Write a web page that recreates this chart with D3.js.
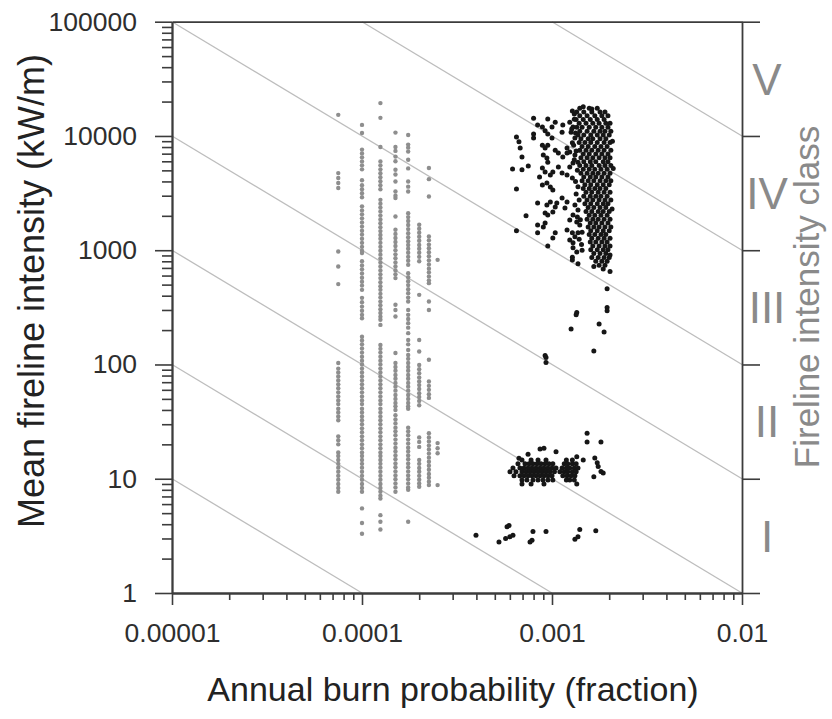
<!DOCTYPE html>
<html>
<head>
<meta charset="utf-8">
<script src="https://cdn.jsdelivr.net/npm/d3@7"></script>
<style>
	body { margin: 0; background: #fff; }
	svg { display: block; }
</style>
</head>
<body>
<svg id="chart" width="832" height="719"></svg>
<script>

// axis ticks and labels
const xMajor = [0.00001, 0.0001, 0.001, 0.01];
const xTickLabels = ["0.00001", "0.0001", "0.001", "0.01"];
const yMajor = [1, 10, 100, 1000, 10000, 100000];
const yTickLabels = ["1", "10", "100", "1000", "10000", "100000"];

// fireline intensity classes (bounds in kW/m) and their names
const classBounds = [1, 10, 100, 1000, 10000, 100000];
const classNames = ["I", "II", "III", "IV", "V"];

// gray iso-lines: constant burn probability x intensity
const isoProducts = [0.0001, 0.001, 0.01, 0.1, 1, 10, 100];

// gray points: discrete burn probability columns and the intensities in each
const grayX = [0.000075, 0.0001, 0.000125, 0.00015, 0.000175, 0.0002, 0.000225, 0.00025];
const grayY = [
	[15300, 4730, 4280, 3870, 3500, 975, 720, 505, 103, 92, 85, 78.5, 72.5, 67, 62, 57, 52.5, 48.5, 45, 41, 38, 35, 32.5,
	 23.5, 21.7, 20, 17, 15.8, 14.6, 13.5, 12.5, 11.5, 10.6, 9.8, 9.0, 8.3, 7.7],
	[12500, 10600, 7600, 7040, 6500, 5990, 5530, 5100, 4100, 3700, 3420, 3160, 2910, 2420, 2230, 2060, 1900, 1750, 1610,
	 1480, 1370, 1260, 1160, 1070, 990, 945, 800, 735, 680, 625, 575, 530, 490, 450, 383, 350, 321, 295, 272, 254,
	 175, 162, 150, 138, 127, 117, 108, 100, 92, 85, 78.5, 72.5, 67, 62, 57, 52.5, 48.5, 45, 41, 38, 35, 32.5, 30, 27.6,
	 25.5, 23.5, 21.7, 20, 18.5, 17, 15.8, 14.6, 13.5, 12.5, 11.5, 10.6, 9.8, 9.0, 8.3, 7.7, 5.5, 4.1, 3.3],
	[19400, 14400, 8000, 5990, 5530, 5100, 4710, 4350, 4010, 3700, 3420, 2760, 2550, 2360, 2180, 2010, 1860, 1720, 1590,
	 1470, 1360, 1260, 1160, 1070, 990, 915, 845, 780, 720, 665, 615, 570, 525, 485, 450, 415, 385, 355, 330, 305, 282,
	 262, 246, 222, 148, 137, 127, 117, 108, 100, 92, 85, 78.5, 72.5, 67, 62, 57, 52.5, 48.5, 45, 41, 38, 35, 32.5, 30,
	 27.6, 25.5, 23.5, 21.7, 20, 18.5, 17, 15.8, 14.6, 13.5, 12.5, 11.5, 10.6, 9.8, 9.0, 8.3, 7.7, 7.1, 6.7, 4.8, 4.2, 3.6],
	[10700, 8000, 7400, 6600, 6000, 5060, 4600, 4000, 3270, 3000, 2860, 1970, 1510, 1390, 1280, 1180, 1090, 1000, 920,
	 850, 780, 720, 665, 615, 570, 333, 300, 263, 126, 103, 95, 88, 81, 75, 69, 64, 59, 54, 50, 46, 43, 40, 36, 33, 30.5,
	 28, 26, 24, 22, 20.3, 18.7, 17.3, 16, 14.8, 13.6, 12.6, 11.6, 10.7, 9.9, 9.1, 8.4, 7.7],
	[10200, 8400, 7900, 7300, 6200, 5200, 4000, 3600, 3270, 2110, 1950, 1800, 1660, 1530, 1410, 1300, 1200, 1110, 1030,
	 950, 875, 810, 745, 630, 580, 535, 495, 455, 420, 385, 356, 300, 272, 250, 230, 210, 188, 164, 150, 134, 121, 112,
	 103, 95, 88, 81, 75, 69, 64, 59, 54, 50, 46, 43, 41, 28, 26, 24, 22, 20.3, 18.7, 17.3, 16, 14.8, 13.6, 12.6, 11.6,
	 10.7, 9.9, 9.1, 8.4, 8.0, 4.2],
	[1670, 1540, 1420, 1310, 1210, 1110, 1030, 950, 875, 800, 407, 164, 130, 99, 91, 84, 77, 71, 66, 61, 56, 52, 48, 44,
	 23, 21, 19, 14.6, 13.5, 12.4, 11.5, 10.6, 9.8, 9.1, 8.5],
	[5240, 4190, 2950, 1320, 1220, 1120, 1040, 960, 885, 815, 750, 690, 640, 590, 545, 515, 356, 300, 110, 71, 65, 60,
	 55, 51, 25, 23, 21.2, 19.5, 18, 16.6, 15.3, 14.1, 13, 12, 11, 10.2, 9.4, 8.8],
	[824, 20.5, 18.5, 16.7, 8.8]
];

// black points, dense upper group: rows of [intensity, [burn probabilities]]
const blackUpperRows = [
	[17500, [0.00140, 0.00157, 0.00173]],
	[16200, [0.00135, 0.00147, 0.00162, 0.00179, 0.00190]],
	[15000, [0.00140, 0.00153, 0.00168, 0.00183, 0.00197]],
	[13900, [0.00134, 0.00146, 0.00159, 0.00173, 0.00188]],
	[12900, [0.00139, 0.00151, 0.00164, 0.00177, 0.00192, 0.00202]],
	[11900, [0.00135, 0.00144, 0.00157, 0.00170, 0.00183, 0.00197]],
	[11000, [0.00140, 0.00153, 0.00166, 0.00179, 0.00190, 0.00204]],
	[10200, [0.00137, 0.00147, 0.00160, 0.00173, 0.00186, 0.00200]],
	[9450, [0.00142, 0.00155, 0.00164, 0.00179, 0.00192]],
	[8750, [0.00139, 0.00149, 0.00160, 0.00173, 0.00188, 0.00202]],
	[8100, [0.00144, 0.00155, 0.00168, 0.00181, 0.00195]],
	[7500, [0.00140, 0.00151, 0.00162, 0.00175, 0.00188, 0.00204]],
	[6950, [0.00146, 0.00157, 0.00170, 0.00183, 0.00197]],
	[6430, [0.00142, 0.00153, 0.00164, 0.00177, 0.00190, 0.00202]],
	[5950, [0.00147, 0.00159, 0.00170, 0.00186, 0.00197]],
	[5510, [0.00140, 0.00151, 0.00162, 0.00177, 0.00190, 0.00204]],
	[5100, [0.00146, 0.00157, 0.00168, 0.00181, 0.00195]],
	[4720, [0.00142, 0.00153, 0.00164, 0.00175, 0.00188, 0.00202]],
	[4370, [0.00147, 0.00159, 0.00170, 0.00183, 0.00197]],
	[4050, [0.00144, 0.00155, 0.00166, 0.00179, 0.00192, 0.00204]],
	[3750, [0.00149, 0.00160, 0.00173, 0.00186, 0.00200]],
	[3470, [0.00146, 0.00157, 0.00168, 0.00179, 0.00192]],
	[3210, [0.00151, 0.00162, 0.00175, 0.00188, 0.00202]],
	[2970, [0.00147, 0.00159, 0.00170, 0.00181, 0.00195]],
	[2750, [0.00153, 0.00164, 0.00177, 0.00190, 0.00204]],
	[2550, [0.00149, 0.00160, 0.00173, 0.00186, 0.00197]],
	[2360, [0.00155, 0.00166, 0.00179, 0.00192]],
	[2180, [0.00151, 0.00162, 0.00175, 0.00186, 0.00200]],
	[2020, [0.00157, 0.00168, 0.00181, 0.00195]],
	[1870, [0.00153, 0.00164, 0.00175, 0.00188, 0.00202]],
	[1730, [0.00159, 0.00170, 0.00183, 0.00197]],
	[1600, [0.00155, 0.00166, 0.00177, 0.00190, 0.00204]],
	[1480, [0.00160, 0.00173, 0.00186, 0.00200]],
	[1370, [0.00157, 0.00168, 0.00181, 0.00192]],
	[1270, [0.00162, 0.00175, 0.00188, 0.00202]],
	[1180, [0.00159, 0.00170, 0.00183, 0.00195]],
	[1090, [0.00164, 0.00177, 0.00190, 0.00202]],
	[1010, [0.00160, 0.00173, 0.00186, 0.00197]],
	[935, [0.00166, 0.00179, 0.00192]],
	[865, [0.00162, 0.00175, 0.00188, 0.00200]],
	[800, [0.00170, 0.00183, 0.00195]],
	[740, [0.00177, 0.00190]],
	[685, [0.00186]]
];

// black points, dense lower group: rows of [intensity, [burn probabilities]]
const blackLowerRows = [
	[14.6, [0.000695, 0.000776, 0.000844, 0.000930, 0.00119, 0.00128]],
	[13.5, [0.000662, 0.000721, 0.000757, 0.000794, 0.000834, 0.000875, 0.000919, 0.000964, 0.00101, 0.00116, 0.00121, 0.00128, 0.00134]],
	[12.4, [0.000623, 0.000678, 0.000712, 0.000748, 0.000785, 0.000824, 0.000865, 0.000907, 0.000952, 0.00100, 0.00105, 0.00113, 0.00119, 0.00124, 0.00131, 0.00137]],
	[11.5, [0.000601, 0.000646, 0.000695, 0.000730, 0.000766, 0.000804, 0.000844, 0.000886, 0.000930, 0.000976, 0.00103, 0.00110, 0.00116, 0.00121, 0.00128, 0.00134]],
	[10.6, [0.000631, 0.000678, 0.000712, 0.000748, 0.000785, 0.000824, 0.000865, 0.000907, 0.000952, 0.00100, 0.00114, 0.00120, 0.00126, 0.00132]],
	[9.75, [0.000695, 0.000738, 0.000794, 0.000844, 0.000897, 0.000952, 0.00101, 0.00119, 0.00124, 0.00131]],
	[9.0, [0.000695, 0.000776, 0.000907, 0.00135]]
];

// scattered black points [burn probability, intensity]
const blackScatter = [
	[0.00146, 18000], [0.00162, 17200], [0.00128, 16500], [0.00131, 15600], [0.00080, 14300], [0.00095, 14100],
	[0.00104, 13200], [0.00124, 13200], [0.00100, 12000], [0.00089, 12000], [0.00084, 12500], [0.00129, 12000],
	[0.00114, 12500], [0.00092, 11100], [0.00126, 10800], [0.00113, 10800], [0.00095, 10400], [0.00080, 10400],
	[0.00100, 9600], [0.00080, 9600], [0.00132, 9600], [0.00128, 8700], [0.00089, 8300], [0.00095, 8300],
	[0.00092, 7850], [0.00120, 7850], [0.00104, 7500], [0.00124, 7240], [0.00108, 7100], [0.00120, 7100],
	[0.00090, 6800], [0.00132, 6800], [0.00094, 6400], [0.00114, 6550], [0.00095, 5900], [0.00137, 5900],
	[0.00129, 5800], [0.00108, 5350], [0.00124, 5350], [0.00089, 5250], [0.00092, 4840], [0.00101, 4840],
	[0.00113, 4740], [0.00098, 4550], [0.00120, 4550], [0.00086, 4370], [0.00128, 4290], [0.00094, 3880],
	[0.00089, 3720], [0.00098, 3580], [0.00101, 3370], [0.00084, 2590], [0.00094, 2490], [0.00098, 2640],
	[0.00104, 2390], [0.00101, 2160], [0.00106, 2590], [0.00113, 2860], [0.00120, 2640], [0.00117, 2340],
	[0.00092, 2120], [0.00095, 2030], [0.00132, 2490], [0.00137, 2250], [0.00129, 2030], [0.00124, 1840],
	[0.00135, 1770], [0.00140, 1660], [0.00084, 1660], [0.00090, 1600], [0.00084, 1420], [0.00092, 1730],
	[0.00104, 1420], [0.00101, 1280], [0.00120, 1500], [0.00128, 1420], [0.00132, 1310], [0.00137, 1420],
	[0.00144, 1440], [0.00124, 1230], [0.00129, 1160], [0.00129, 1050], [0.00135, 965], [0.00144, 1000],
	[0.00128, 870], [0.00128, 820], [0.00095, 1090], [0.00137, 760], [0.00166, 720], [0.00202, 650],
	[0.00202, 910], [0.00195, 460], [0.00073, 2000], [0.00065, 1480], [0.00065, 9800], [0.00067, 8900],
	[0.00068, 7850], [0.000695, 6550], [0.00062, 5150], [0.000695, 5050], [0.00075, 5450], [0.00065, 3430],
	[0.00131, 14000], [0.00127, 11500], [0.00133, 10600], [0.00130, 8300], [0.00134, 7400], [0.00131, 6200],
	[0.00136, 5000], [0.00133, 4000], [0.00137, 3600], [0.00134, 3100], [0.00139, 2750], [0.00136, 1950],
	[0.00141, 1850], [0.00139, 1250], [0.00143, 1120], [0.00208, 9000], [0.00210, 5200], [0.00207, 2300],
	[0.00195, 315], [0.00195, 295], [0.00135, 285], [0.00134, 272], [0.00126, 204], [0.00177, 226],
	[0.00188, 192], [0.00166, 131], [0.00092, 120], [0.00093, 115], [0.00093, 104],
	[0.000748, 16.4], [0.000865, 18.2], [0.000907, 18.5], [0.00105, 17.2], [0.00067, 15.1], [0.00135, 15.6],
	[0.00146, 14.6], [0.00153, 25], [0.00153, 21], [0.00181, 21], [0.00168, 15.2], [0.00173, 13.8],
	[0.00175, 12.8], [0.00181, 11.6], [0.00186, 11.2], [0.00166, 10.4],
	[0.000398, 3.2], [0.00058, 3.8], [0.000594, 3.9], [0.00057, 3.0], [0.00060, 3.1], [0.000623, 3.2],
	[0.000526, 2.8], [0.000794, 3.45], [0.000785, 2.9], [0.000766, 2.8], [0.00093, 3.45], [0.00140, 3.6],
	[0.00137, 3.1], [0.00132, 2.95], [0.00170, 3.5]
];

const svg = d3.select("#chart");
const font = "'Liberation Sans', Arial, Helvetica, sans-serif";
const axisColor = "#3c3c3c";

const x = d3.scaleLog().domain([0.00001, 0.01]).range([172, 742]);
const y = d3.scaleLog().domain([1, 100000]).range([593, 21.7]);

// iso-lines (x * y = const), clipped to the plot box
const isoGroup = svg.append("g");
isoProducts.forEach(c => {
	const x0 = Math.max(0.00001, c / 100000);
	const x1 = Math.min(0.01, c / 1);
	isoGroup.append("line")
		.attr("x1", x(x0)).attr("y1", y(c / x0))
		.attr("x2", x(x1)).attr("y2", y(c / x1))
		.attr("stroke", "#bdbdbd").attr("stroke-width", 1.3);
});

// gray points
const grayPts = [];
grayX.forEach((gx, i) => grayY[i].forEach(v => grayPts.push([gx, v])));
svg.append("g").selectAll("circle").data(grayPts).enter().append("circle")
	.attr("cx", d => x(d[0])).attr("cy", d => y(d[1]))
	.attr("r", 2.2).attr("fill", "#8e8e8e");

// black points
const blackPts = blackScatter.slice();
blackUpperRows.concat(blackLowerRows).forEach(r => r[1].forEach(bx => blackPts.push([bx, r[0]])));
svg.append("g").selectAll("circle").data(blackPts).enter().append("circle")
	.attr("cx", d => x(d[0])).attr("cy", d => y(d[1]))
	.attr("r", 2.5).attr("fill", "#161616");

// axes
function styleAxis(g) {
	g.selectAll("path.domain").attr("stroke", axisColor).attr("stroke-width", 1.8);
	g.selectAll(".tick line").attr("stroke", axisColor).attr("stroke-width", 1.6);
	g.selectAll(".tick text").attr("fill", "#2e2e2e").attr("font-size", 26.5).attr("font-family", font);
}

const xMinor = x.ticks().filter(t => !xMajor.includes(t));
const yMinor = y.ticks().filter(t => !yMajor.includes(t));

svg.append("g").attr("transform", "translate(0,593)")
	.call(d3.axisBottom(x).tickValues(xMinor).tickSize(7).tickFormat("").tickSizeOuter(0))
	.call(styleAxis);
svg.append("g").attr("transform", "translate(0,593)")
	.call(d3.axisBottom(x).tickValues(xMajor).tickSize(12).tickPadding(18).tickSizeOuter(0)
		.tickFormat((d, i) => xTickLabels[i]))
	.call(styleAxis);

svg.append("g").attr("transform", "translate(172,0)")
	.call(d3.axisLeft(y).tickValues(yMinor).tickSize(10).tickFormat("").tickSizeOuter(0))
	.call(styleAxis);
svg.append("g").attr("transform", "translate(172,0)")
	.call(d3.axisLeft(y).tickValues(yMajor).tickSize(17).tickPadding(18).tickSizeOuter(0)
		.tickFormat((d, i) => yTickLabels[i]))
	.call(styleAxis);

svg.append("g").attr("transform", "translate(742,0)")
	.call(d3.axisRight(y).tickValues(classBounds).tickSize(18).tickFormat("").tickSizeOuter(0))
	.call(styleAxis);

svg.append("g").attr("transform", "translate(0,21.7)")
	.call(d3.axisTop(x).tickValues([]).tickSizeOuter(0))
	.call(styleAxis);

// intensity class names, centred in each class band
svg.append("g").selectAll("text").data(classNames).enter().append("text")
	.attr("x", 767)
	.attr("y", (d, i) => y(Math.sqrt(classBounds[i] * classBounds[i + 1])))
	.attr("dy", "0.36em")
	.attr("text-anchor", "middle")
	.attr("font-family", font).attr("font-size", 44).attr("fill", "#8a8a8a")
	.text(d => d);

// axis titles
svg.append("text")
	.attr("transform", "translate(44,291) rotate(-90)")
	.attr("text-anchor", "middle")
	.attr("font-family", font).attr("font-size", 36).attr("fill", "#222")
	.text("Mean fireline intensity (kW/m)");

svg.append("text")
	.attr("x", 453).attr("y", 701)
	.attr("text-anchor", "middle")
	.attr("font-family", font).attr("font-size", 34).attr("fill", "#222")
	.text("Annual burn probability (fraction)");

svg.append("text")
	.attr("transform", "translate(819,297) rotate(-90)")
	.attr("text-anchor", "middle")
	.attr("font-family", font).attr("font-size", 35).attr("fill", "#8a8a8a")
	.text("Fireline intensity class");

</script>
</body>
</html>
